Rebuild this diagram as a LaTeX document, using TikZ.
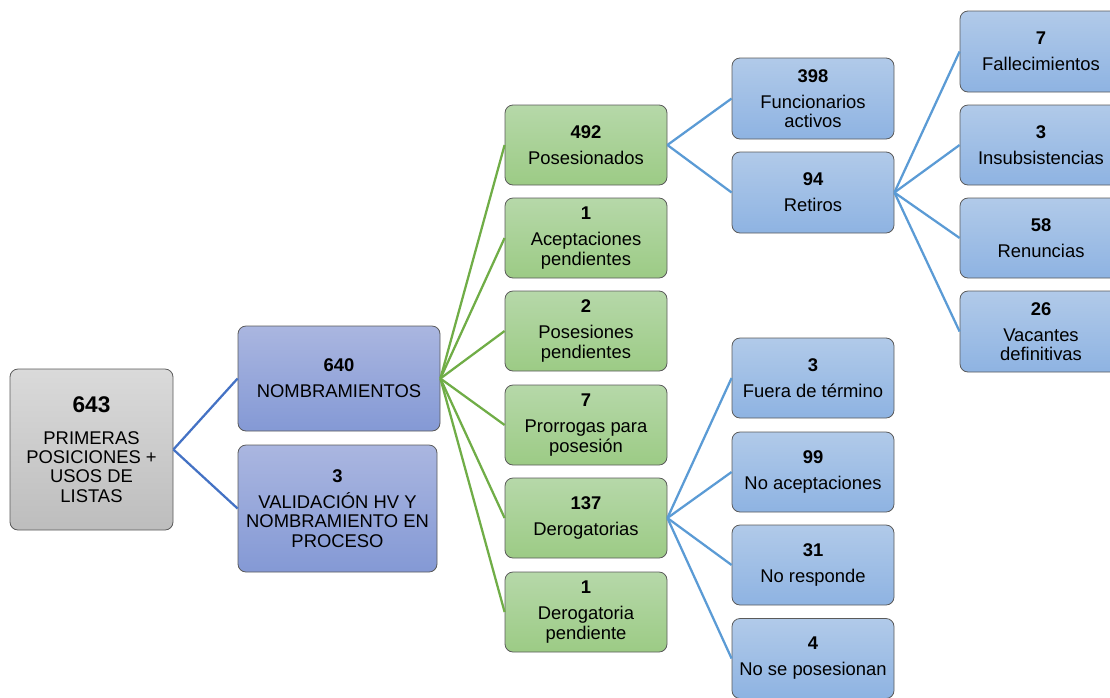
\documentclass[tikz,border=0pt]{standalone}
\usepackage{fontspec}
\setmainfont{Liberation Sans}
\usepackage{xcolor}
\usepackage{tikz}

\definecolor{grayTop}{HTML}{DADADA}
\definecolor{grayBot}{HTML}{BDBDBD}
\definecolor{lilaTop}{HTML}{AAB6E0}
\definecolor{lilaBot}{HTML}{8499D5}
\definecolor{greenTop}{HTML}{B6D8A9}
\definecolor{greenBot}{HTML}{9CCB85}
\definecolor{blueTop}{HTML}{B1CAE9}
\definecolor{blueBot}{HTML}{8EB3E2}
\definecolor{boxLine}{HTML}{5A5A5A}
\definecolor{linkDark}{HTML}{4472C4}
\definecolor{linkGreen}{HTML}{70AD47}
\definecolor{linkBlue}{HTML}{5B9BD5}

\tikzset{
	box/.style={shape=rectangle,rounded corners=6pt,draw=boxLine,line width=0.6pt,
		align=center,inner sep=0pt,minimum width=121.5pt,minimum height=60pt,
		font=\fontsize{13.8}{14.5}\selectfont},
	graybox/.style={box,top color=grayTop,bottom color=grayBot},
	lilabox/.style={box,top color=lilaTop,bottom color=lilaBot},
	greenbox/.style={box,top color=greenTop,bottom color=greenBot},
	bluebox/.style={box,top color=blueTop,bottom color=blueBot},
	link/.style={line width=1.7pt}
}

\begin{document}
\begin{tikzpicture}[x=0.75pt,y=-0.75pt]
	\clip (0,0) rectangle (1110,697);
	% first two levels
	\node (root) at (91.5,449.5)[graybox,minimum width=122.25pt,minimum height=120.75pt]
		{{\fontsize{17}{17}\selectfont\bfseries 643}\\[9pt]PRIMERAS\\POSICIONES +\\USOS DE\\LISTAS};
	\node (nomb) at (339,378.5)[lilabox,minimum width=151.5pt,minimum height=78.75pt]
		{\textbf{640}\\[5pt]NOMBRAMIENTOS};
	\node (valid) at (337.5,508.5)[lilabox,minimum width=149.25pt,minimum height=95.25pt]
		{\textbf{3}\\[5pt]VALIDACIÓN HV Y\\NOMBRAMIENTO EN\\PROCESO};
	% green column
	\node (posesion) at (586,145)[greenbox]{\textbf{492}\\[5pt]Posesionados};
	\node (acept) at (586,238)[greenbox]{\textbf{1}\\[5pt]Aceptaciones\\pendientes};
	\node (pospend) at (586,331)[greenbox]{\textbf{2}\\[5pt]Posesiones\\pendientes};
	\node (prorroga) at (586,425)[greenbox]{\textbf{7}\\[5pt]Prorrogas para\\posesión};
	\node (derog) at (586,518)[greenbox]{\textbf{137}\\[5pt]Derogatorias};
	\node (derogpend) at (586,612)[greenbox]{\textbf{1}\\[5pt]Derogatoria\\pendiente};
	% blue column
	\node (activos) at (813,98.5)[bluebox,minimum height=60.75pt]{\textbf{398}\\[5pt]Funcionarios\\activos};
	\node (retiros) at (813,192.5)[bluebox,minimum height=60.75pt]{\textbf{94}\\[5pt]Retiros};
	\node (fuera) at (813,378)[bluebox]{\textbf{3}\\[5pt]Fuera de término};
	\node (noacept) at (813,472)[bluebox]{\textbf{99}\\[5pt]No aceptaciones};
	\node (noresp) at (813,565)[bluebox]{\textbf{31}\\[5pt]No responde};
	\node (nopos) at (813,658.5)[bluebox]{\textbf{4}\\[5pt]No se posesionan};
	% last column
	\node (fallec) at (1041,51.5)[bluebox,minimum height=60.75pt]{\textbf{7}\\[5pt]Fallecimientos};
	\node (insub) at (1041,145)[bluebox]{\textbf{3}\\[5pt]Insubsistencias};
	\node (renun) at (1041,238)[bluebox]{\textbf{58}\\[5pt]Renuncias};
	\node (vacant) at (1041,331.5)[bluebox,minimum height=60.75pt]{\textbf{26}\\[5pt]Vacantes\\definitivas};
	% links
	\foreach \c in {nomb,valid}
		\draw[link,linkDark] (root.east) -- (\c.west);
	\foreach \c in {posesion,acept,pospend,prorroga,derog,derogpend}
		\draw[link,linkGreen] (nomb.east) -- (\c.west);
	\foreach \c in {activos,retiros}
		\draw[link,linkBlue] (posesion.east) -- (\c.west);
	\foreach \c in {fallec,insub,renun,vacant}
		\draw[link,linkBlue] (retiros.east) -- (\c.west);
	\foreach \c in {fuera,noacept,noresp,nopos}
		\draw[link,linkBlue] (derog.east) -- (\c.west);
\end{tikzpicture}
\end{document}
